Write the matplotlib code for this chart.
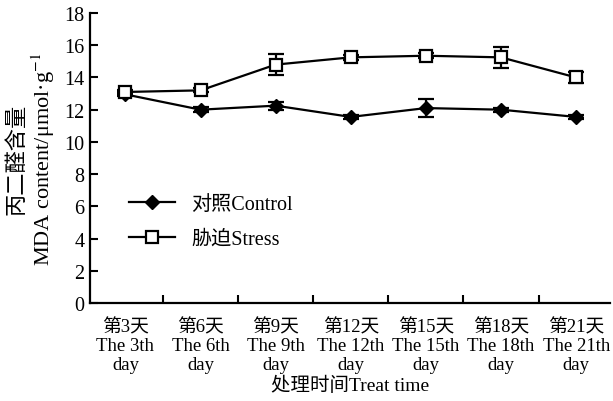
import matplotlib
matplotlib.use("Agg")
import matplotlib.pyplot as plt
from matplotlib.lines import Line2D
import numpy as np

plt.rcParams['font.family'] = ['Liberation Serif', 'Noto Sans CJK SC']
plt.rcParams['mathtext.fontset'] = 'stix'

categories = ["第3天\nThe 3th\nday", "第6天\nThe 6th\nday", "第9天\nThe 9th\nday",
              "第12天\nThe 12th\nday", "第15天\nThe 15th\nday", "第18天\nThe 18th\nday",
              "第21天\nThe 21th\nday"]
control = [12.95, 12.0, 12.25, 11.55, 12.1, 12.0, 11.55]
control_err = [0.12, 0.15, 0.25, 0.15, 0.55, 0.12, 0.12]
stress = [13.1, 13.2, 14.8, 15.25, 15.35, 15.25, 14.0]
stress_err = [0.12, 0.12, 0.65, 0.15, 0.15, 0.65, 0.35]

fig = plt.figure(figsize=(6.13, 4.02), dpi=100)
ax = fig.add_axes([0.147, 0.244, 0.848, 0.721])
x = np.arange(len(categories))

ax.errorbar(x, control, yerr=control_err, color='black', lw=1.6, marker='D',
            ms=7, mfc='black', mec='black', capsize=6, capthick=1.6, elinewidth=1.6,
            zorder=3)
ax.errorbar(x, stress, yerr=stress_err, color='black', lw=1.6, marker='s',
            ms=8, mfc='white', mec='black', mew=1.6, capsize=6, capthick=1.6,
            elinewidth=1.6, zorder=4)

ax.set_xlim(-0.47, 6.45)
ax.set_ylim(0, 18)
ax.set_yticks(np.arange(0, 19, 2))
ax.tick_params(axis='y', direction='in', length=6, width=1.5, labelsize=14.5, pad=4)
ax.set_xticks(x)
ax.set_xticklabels(categories, fontsize=13.5, linespacing=1.12)
ax.tick_params(axis='x', which='major', length=0, pad=11)
ax.set_xticks(x[:-1] + 0.5, minor=True)
ax.tick_params(axis='x', which='minor', direction='in', length=6, width=1.5)
for s in ['top', 'right']:
    ax.spines[s].set_visible(False)
for s in ['left', 'bottom']:
    ax.spines[s].set_linewidth(1.6)

ax.set_xlabel('处理时间Treat time', fontsize=14, labelpad=2)
ax.set_ylabel('丙二醛含量\nMDA content/μmol·g$^{-1}$', fontsize=16, linespacing=1.1, labelpad=5)

handles = [Line2D([], [], color='black', lw=1.6, marker='D', ms=7, mfc='black', mec='black'),
           Line2D([], [], color='black', lw=1.6, marker='s', ms=8, mfc='white', mec='black', mew=1.6)]
ax.legend(handles, ['对照Control', '胁迫Stress'], loc='lower left', bbox_to_anchor=(0.04, 0.125),
          frameon=False, fontsize=14.5, handlelength=2.3, handletextpad=0.8,
          numpoints=1, labelspacing=0.75)

fig.savefig('out.png', dpi=100)
